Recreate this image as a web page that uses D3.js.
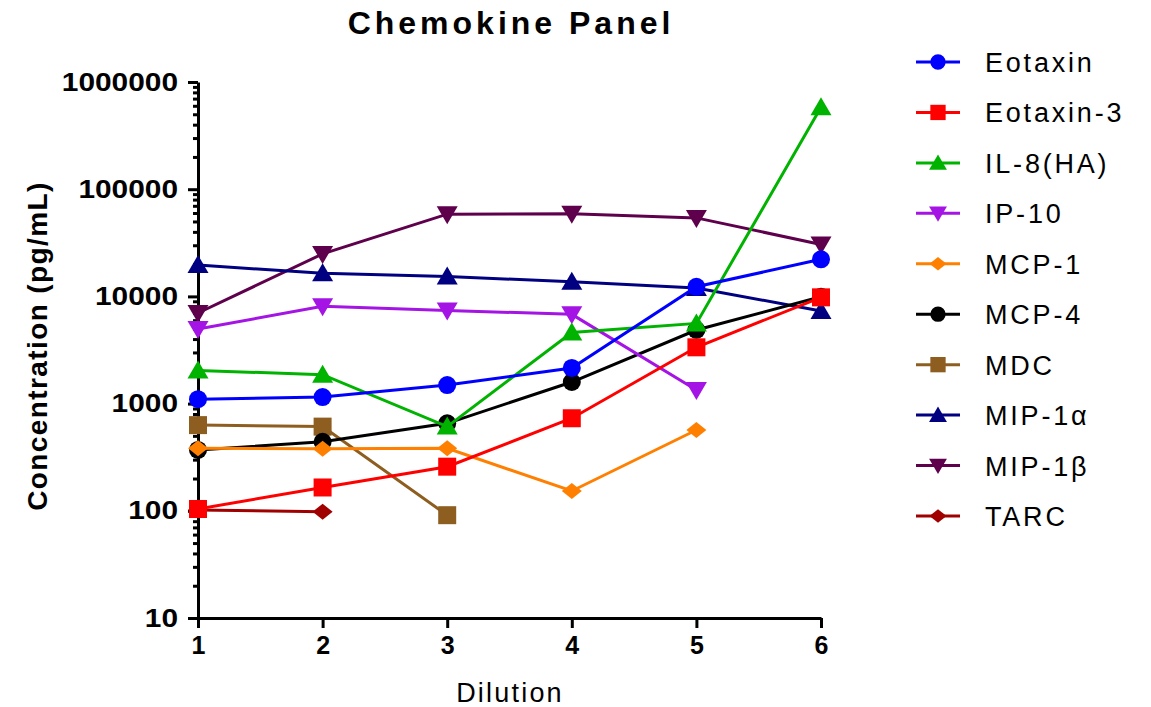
<!DOCTYPE html>
<html>
<head>
<meta charset="utf-8">
<script src="https://cdn.jsdelivr.net/npm/d3@7"></script>
<style>
  body { margin: 0; background: #fff; }
  text { font-family: "Liberation Sans", Arial, sans-serif; }
</style>
</head>
<body>
<div id="chart"></div>
<script>
// Data
const dilutions = [1, 2, 3, 4, 5, 6];
const seriesNames = ["Eotaxin", "Eotaxin-3", "IL-8(HA)", "IP-10", "MCP-1", "MCP-4", "MDC", "MIP-1\u03b1", "MIP-1\u03b2", "TARC"];
const seriesColors = ["#0000ff", "#ff0000", "#00b300", "#a414e4", "#ff8000", "#000000", "#8e5e20", "#000080", "#5e004c", "#a00000"];
const seriesShapes = ["circle", "square", "triangle", "down", "diamond", "circle", "square", "triangle", "down", "diamond"];
const eotaxin   = [1100, 1150, 1490, 2150, 12300, 22200];
const eotaxin3  = [104, 165, 258, 730, 3350, 9800];
const il8       = [2040, 1860, 610, 4600, 5600, 580000];
const ip10      = [4960, 8100, 7400, 6800, 1340, null];
const mcp1      = [383, 380, 383, 153, 567, null];
const mcp4      = [370, 440, 655, 1590, 4860, 9930];
const mdc       = [630, 610, 91, null, null, null];
const mip1a     = [19600, 16400, 15300, 13700, 12000, 7300];
const mip1b     = [7000, 24900, 58500, 59000, 54000, 30500];
const tarc      = [102, 98, null, null, null, null];
const seriesValues = [eotaxin, eotaxin3, il8, ip10, mcp1, mcp4, mdc, mip1a, mip1b, tarc];
const yMajorTicks = [10, 100, 1000, 10000, 100000, 1000000];

const width = 1151;
const height = 707;
const svg = d3.select("#chart")
  .append("svg")
  .attr("width", width)
  .attr("height", height);

// Scales
const x = d3.scaleLinear().domain([1, 6]).range([198, 821]);
const y = d3.scaleLog().domain([10, 1000000]).range([618, 82]);

// Marker shapes
function markerPath(shape, s) {
  const p = d3.path();
  if (shape === "circle") {
    p.arc(0, 0, 9 * s, 0, 2 * Math.PI);
  } else if (shape === "square") {
    p.rect(-9 * s, -9 * s, 18 * s, 18 * s);
  } else if (shape === "triangle") {
    p.moveTo(0, -10 * s); p.lineTo(10.5 * s, 8 * s); p.lineTo(-10.5 * s, 8 * s); p.closePath();
  } else if (shape === "down") {
    p.moveTo(0, 10 * s); p.lineTo(10.5 * s, -8 * s); p.lineTo(-10.5 * s, -8 * s); p.closePath();
  } else {
    p.moveTo(0, -8 * s); p.lineTo(10 * s, 0); p.lineTo(0, 8 * s); p.lineTo(-10 * s, 0); p.closePath();
  }
  return p.toString();
}

// Axes
const yAxis = svg.append("g")
  .attr("transform", "translate(198,0)")
  .call(d3.axisLeft(y).tickValues(yMajorTicks).tickFormat(d3.format("d")).tickSize(10).tickSizeOuter(0).tickPadding(10));
const minorTicks = [];
yMajorTicks.slice(0, -1).forEach(d => { for (let k = 2; k <= 9; k++) minorTicks.push(d * k); });
const yMinor = svg.append("g")
  .attr("transform", "translate(198,0)")
  .call(d3.axisLeft(y).tickValues(minorTicks).tickFormat("").tickSize(5).tickSizeOuter(0));
yMinor.select(".domain").remove();

const xAxis = svg.append("g")
  .attr("transform", "translate(0,618)")
  .call(d3.axisBottom(x).tickValues(dilutions).tickFormat(d3.format("d")).tickSize(10).tickSizeOuter(0).tickPadding(8));

svg.selectAll(".domain").attr("stroke", "#000").attr("stroke-width", 3);
svg.selectAll(".tick line").attr("stroke", "#000").attr("stroke-width", 3);
yAxis.attr("font-size", null);
yAxis.selectAll("text")
  .attr("font-family", null)
  .attr("font-size", 25).attr("font-weight", "bold").attr("fill", "#000")
  .attr("textLength", d => String(d).length * 16.6)
  .attr("lengthAdjust", "spacingAndGlyphs");
xAxis.selectAll("text")
  .attr("font-family", null)
  .attr("font-size", 25).attr("font-weight", "bold").attr("fill", "#000");

// Titles
svg.append("text")
  .attr("x", 511).attr("y", 34)
  .attr("text-anchor", "middle")
  .style("font-size", "32px").style("font-weight", "bold").style("letter-spacing", "4px")
  .text("Chemokine Panel");
svg.append("text")
  .attr("x", 510).attr("y", 702)
  .attr("text-anchor", "middle")
  .style("font-size", "27px").style("letter-spacing", "2.2px")
  .text("Dilution");
svg.append("text")
  .attr("transform", "translate(47,346) rotate(-90)")
  .attr("text-anchor", "middle")
  .style("font-size", "28px").style("font-weight", "bold").style("letter-spacing", "1.4px")
  .text("Concentration (pg/mL)");

// Series, first series drawn on top
const line = d3.line()
  .defined(d => d.v !== null)
  .x(d => x(d.x))
  .y(d => y(d.v));

for (let i = seriesNames.length - 1; i >= 0; i--) {
  const pts = dilutions.map((d, j) => ({ x: d, v: seriesValues[i][j] }));
  const g = svg.append("g").attr("class", "series");
  g.append("path")
    .datum(pts)
    .attr("d", line)
    .attr("fill", "none")
    .attr("stroke", seriesColors[i])
    .attr("stroke-width", 3);
  g.selectAll(".pt")
    .data(pts.filter(d => d.v !== null))
    .enter().append("path")
    .attr("class", "pt")
    .attr("transform", d => `translate(${x(d.x)},${y(d.v)})`)
    .attr("d", markerPath(seriesShapes[i], 1))
    .attr("fill", seriesColors[i]);
}

// Legend
const legendY = d3.scaleLinear().domain([0, 9]).range([62, 516]);
seriesNames.forEach((name, i) => {
  const g = svg.append("g").attr("transform", `translate(916,${legendY(i)})`);
  g.append("line")
    .attr("x1", 0).attr("x2", 44)
    .attr("stroke", seriesColors[i]).attr("stroke-width", 3);
  g.append("path")
    .attr("transform", "translate(22,0)")
    .attr("d", markerPath(seriesShapes[i], 0.85))
    .attr("fill", seriesColors[i]);
  g.append("text")
    .attr("x", 69).attr("y", 10)
    .style("font-size", "27px").style("letter-spacing", "2.8px")
    .text(name);
});
</script>
</body>
</html>
